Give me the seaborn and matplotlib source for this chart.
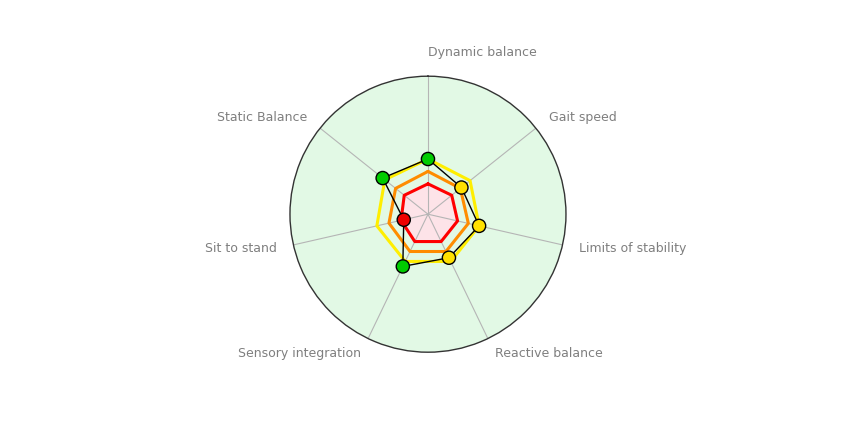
import numpy as np
import pandas as pd
import matplotlib
matplotlib.use("Agg")
import matplotlib.pyplot as plt
import seaborn as sns

# axis labels, clockwise from the top
categories = ["Dynamic balance", "Gait speed", "Limits of stability", "Reactive balance",
              "Sensory integration", "Sit to stand", "Static Balance"]
scores = [0.40, 0.31, 0.38, 0.35, 0.42, 0.18, 0.42]
red_ring = [0.22, 0.22, 0.22, 0.22, 0.22, 0.20, 0.22]
orange_ring = [0.31, 0.30, 0.30, 0.30, 0.30, 0.29, 0.30]
yellow_ring = [0.40, 0.39, 0.38, 0.38, 0.38, 0.38, 0.40]
score_level = ["good", "mid", "mid", "mid", "good", "low", "good"]

sns.set_style("white")
plt.rcParams['font.family'] = ['DejaVu Sans']

n = len(categories)
theta = np.arange(n) * 2 * np.pi / n
df = pd.DataFrame({"theta": theta, "score": scores, "level": score_level})

fig = plt.figure(figsize=(8.5, 4.25), dpi=100)
ax = fig.add_axes([0.5035 - 0.1625, 0.496 - 0.3247, 0.325, 0.6494], projection="polar")
ax.set_theta_zero_location("N")
ax.set_theta_direction(-1)
ax.set_facecolor("#e2f9e5")
ax.set_ylim(0, 1)

def closed(v):
    return np.append(theta, theta[0]), np.append(v, v[0])

t, r = closed(red_ring)
ax.fill(t, r, color="#fde3e8", zorder=1)
for ang in theta:
    ax.plot([ang, ang], [0, 1], color="#b5b5b5", lw=0.8, zorder=2)
for ring, col in [(yellow_ring, "#ffee00"), (orange_ring, "#ff8c00"), (red_ring, "#ff0000")]:
    t, r = closed(ring)
    ax.plot(t, r, color=col, lw=2.2, zorder=3)
t, r = closed(scores)
ax.plot(t, r, color="black", lw=1, zorder=4)
sns.scatterplot(data=df, x="theta", y="score", hue="level", ax=ax,
                palette={"good": "#00cc00", "mid": "#ffe000", "low": "#ee0000"},
                s=90, edgecolor="black", linewidth=1, legend=False, zorder=5)

ax.set_xticks([])
ax.set_yticks([])
ax.grid(False)
ax.set_xlabel("")
ax.set_ylabel("")
ax.spines["polar"].set_color("#333333")
ax.spines["polar"].set_linewidth(1)

for ang, lab in zip(theta, categories):
    deg = np.degrees(ang)
    if deg < 1:
        ha, rr = "left", 1.17
    elif deg < 180:
        ha, rr = "left", 1.12
    else:
        ha, rr = "right", 1.12
    ax.text(ang, rr, lab, ha=ha, va="center", color="#7f7f7f", fontsize=9, clip_on=False)

fig.savefig("out.png", dpi=100)
